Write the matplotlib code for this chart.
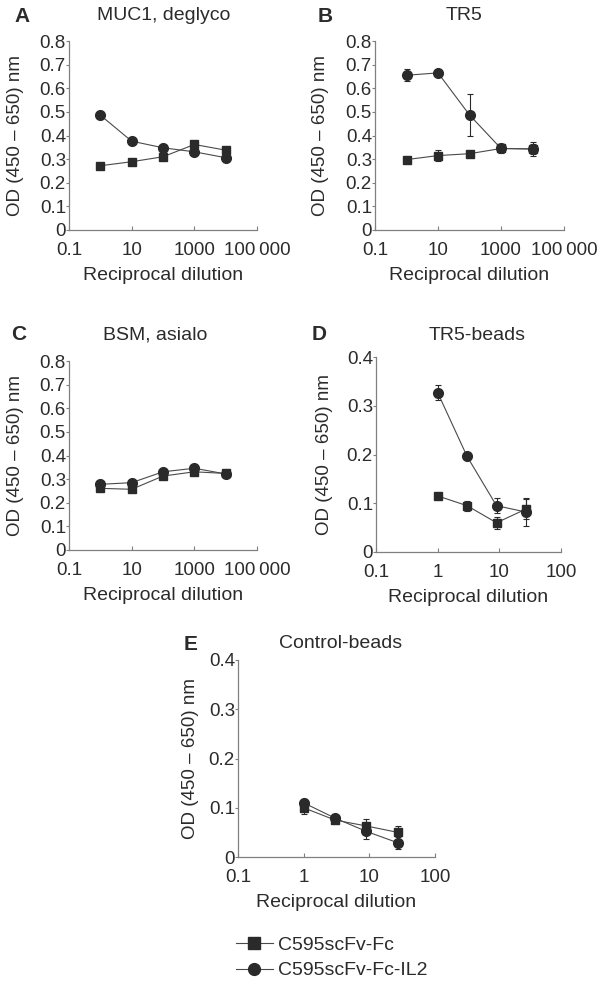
import matplotlib
matplotlib.use("Agg")
import matplotlib.pyplot as plt
from matplotlib.ticker import FixedLocator, FuncFormatter, NullLocator
from matplotlib.lines import Line2D

plt.rcParams["font.family"] = ["Liberation Sans", "DejaVu Sans"]

# dilution series
dil_wide = [1, 10, 100, 1000, 10000]
dil_beads = [1, 3, 9, 27]

# panel A: MUC1, deglyco
a_fc = [0.272, 0.289, 0.310, 0.362, 0.338]
a_fc_err = [0.008, 0.008, 0.010, 0.012, 0.010]
a_il2 = [0.486, 0.376, 0.348, 0.331, 0.306]
a_il2_err = [0.010, 0.010, 0.008, 0.010, 0.008]

# panel B: TR5
b_fc = [0.298, 0.315, 0.323, 0.345, 0.343]
b_fc_err = [0.010, 0.022, 0.010, 0.015, 0.028]
b_il2 = [0.655, 0.665, 0.487, 0.345, 0.343]
b_il2_err = [0.025, 0.010, 0.089, 0.020, 0.020]

# panel C: BSM, asialo
c_fc = [0.261, 0.257, 0.313, 0.331, 0.324]
c_fc_err = [0.010, 0.010, 0.010, 0.010, 0.010]
c_il2 = [0.278, 0.285, 0.331, 0.346, 0.322]
c_il2_err = [0.010, 0.010, 0.010, 0.010, 0.010]

# panel D: TR5-beads
d_fc = [0.115, 0.095, 0.060, 0.088]
d_fc_err = [0.004, 0.010, 0.012, 0.020]
d_il2 = [0.327, 0.196, 0.095, 0.082]
d_il2_err = [0.015, 0.004, 0.015, 0.028]

# panel E: Control-beads
e_fc = [0.100, 0.075, 0.063, 0.050]
e_fc_err = [0.013, 0.005, 0.015, 0.013]
e_il2 = [0.110, 0.079, 0.052, 0.029]
e_il2_err = [0.008, 0.004, 0.015, 0.012]

wide_ticks = [0.1, 10, 1000, 100000]
bead_ticks = [0.1, 1, 10, 100]
wide_yticks = [0, 0.1, 0.2, 0.3, 0.4, 0.5, 0.6, 0.7, 0.8]
bead_yticks = [0, 0.1, 0.2, 0.3, 0.4]

TEXT = "#2b2b2b"
SPINE = "#808080"
LINE = "#4a4a4a"
MARK = "#2a2a2a"
W, H = 600, 981


def fmt_x(v, pos):
    if v < 1:
        return f"{v:g}"
    s = f"{int(round(v)):,}"
    return s.replace(",", "\u2009") if v >= 10000 else s.replace(",", "")


def fmt_y(v, pos):
    return "0" if v == 0 else f"{v:.1f}"


def panel(box, letter, letter_xy, title, title_xy, ylab_dist, x, fc, fc_err, il2, il2_err,
          xticks, yticks):
    left, right, top, bottom = box
    fig = plt.gcf()
    ax = fig.add_axes([left / W, 1 - bottom / H, (right - left) / W, (bottom - top) / H])
    ax.errorbar(x, fc, yerr=fc_err, color=LINE, lw=0.8, marker="s", ms=5.5,
                mfc=MARK, mec=MARK, ecolor=MARK, elinewidth=0.8, capsize=2.5, capthick=0.8,
                clip_on=False)
    ax.errorbar(x, il2, yerr=il2_err, color=LINE, lw=0.8, marker="o", ms=7,
                mfc=MARK, mec=MARK, ecolor=MARK, elinewidth=0.8, capsize=2.5, capthick=0.8,
                clip_on=False)
    ax.set_xscale("log")
    ax.set_xlim(xticks[0], xticks[-1])
    ax.set_ylim(yticks[0], yticks[-1])
    ax.xaxis.set_major_locator(FixedLocator(xticks))
    ax.xaxis.set_minor_locator(NullLocator())
    ax.xaxis.set_major_formatter(FuncFormatter(fmt_x))
    ax.yaxis.set_major_locator(FixedLocator(yticks))
    ax.yaxis.set_major_formatter(FuncFormatter(fmt_y))
    for side in ("top", "right"):
        ax.spines[side].set_visible(False)
    for side in ("left", "bottom"):
        ax.spines[side].set_color(SPINE)
        ax.spines[side].set_linewidth(0.9)
    ax.tick_params(axis="y", length=2.2, width=0.8, color=SPINE, labelsize=13.5,
                   labelcolor=TEXT, pad=0)
    ax.tick_params(axis="x", direction="in", length=3, width=0.8, color=SPINE,
                   labelsize=13.5, labelcolor=TEXT, pad=8.5)
    ax.set_xlabel("Reciprocal dilution", fontsize=14, color=TEXT, labelpad=6)
    ax.set_ylabel("OD (450 \u2013 650) nm", fontsize=13.5, color=TEXT)
    ax.yaxis.set_label_coords(-(ylab_dist - 11) / (right - left), 0.5)
    fig.text(title_xy[0] / W, 1 - title_xy[1] / H, title, fontsize=14, color=TEXT,
             ha="center", va="center")
    fig.text(letter_xy[0] / W, 1 - letter_xy[1] / H, letter, fontsize=15,
             fontweight="bold", color=TEXT, ha="center", va="center")
    return ax


fig = plt.figure(figsize=(6, 9.81), dpi=100)

panel((69, 257, 41, 230), "A", (22, 17), "MUC1, deglyco", (164, 16), 56,
      dil_wide, a_fc, a_fc_err, a_il2, a_il2_err, wide_ticks, wide_yticks)
panel((375, 564, 41, 230), "B", (325, 17), "TR5", (464, 16), 57,
      dil_wide, b_fc, b_fc_err, b_il2, b_il2_err, wide_ticks, wide_yticks)
panel((69, 257, 361, 550), "C", (19, 335), "BSM, asialo", (155, 335), 56,
      dil_wide, c_fc, c_fc_err, c_il2, c_il2_err, wide_ticks, wide_yticks)
panel((376, 561, 357, 552), "D", (319, 335), "TR5-beads", (477, 335), 54,
      dil_beads, d_fc, d_fc_err, d_il2, d_il2_err, bead_ticks, bead_yticks)
panel((238, 435, 660, 857), "E", (191, 644), "Control-beads", (341, 644), 50,
      dil_beads, e_fc, e_fc_err, e_il2, e_il2_err, bead_ticks, bead_yticks)

handles = [
    Line2D([], [], color=LINE, lw=0.8, marker="s", ms=8, mfc=MARK, mec=MARK),
    Line2D([], [], color=LINE, lw=0.8, marker="o", ms=8.5, mfc=MARK, mec=MARK),
]
fig.legend(handles, ["C595scFv-Fc", "C595scFv-Fc-IL2"], loc="upper left",
           bbox_to_anchor=(236 / W, 1 - 936 / H), frameon=False, fontsize=14,
           handlelength=1.9, handletextpad=0.25, labelspacing=0.42, labelcolor=TEXT,
           borderaxespad=0, borderpad=0)

fig.savefig("out.png", dpi=100)
